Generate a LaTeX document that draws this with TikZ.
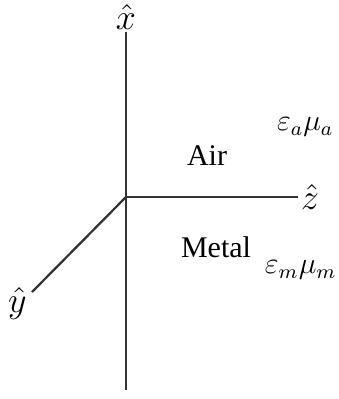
\documentclass[tikz,border=0pt]{standalone}
\usepackage{fontspec}
\setmainfont{Liberation Serif}
\usetikzlibrary{positioning}

\begin{document}
\begin{tikzpicture}[
                x=0.4pt, y=-0.4pt,
                axis/.style={line width=0.9pt, black!80},
                axislabel/.style={inner sep=1pt, font=\Large},
                region/.style={font=\large},
                param/.style={font=\fontsize{11.5}{13}\selectfont, inner sep=0pt, anchor=east},
                ]

                \useasboundingbox (0,0) rectangle (339,399);

                % ── Axes ──
                \coordinate (O) at (126,197);
                \coordinate (xend) at (126,30);
                \coordinate (bottom) at (126,390);
                \coordinate (zend) at (298,197);
                \coordinate (yend) at (32,292);

                \node[axislabel, above=-1pt of xend] (xlab) {$\hat{x}$};
                \node[axislabel, right=0pt of zend] (zlab) {$\hat{z}$};
                \node[axislabel, below left=-3pt and 1pt of yend] (ylab) {$\hat{y}$};

                \draw[axis] (xlab.south) -- (bottom);
                \draw[axis] (O) -- (zlab.west);
                \draw[axis] (O) -- (yend);

                % ── Regions ──
                \node[region] (air) at (207,156) {Air};
                \node[region] (metal) at (216,247) {Metal};
                \node[param] (epsa) at (334,127) {$\varepsilon_a\mu_a$};
                \node[param] (epsm) at (337,270) {$\varepsilon_m\mu_m$};

\end{tikzpicture}
\end{document}
